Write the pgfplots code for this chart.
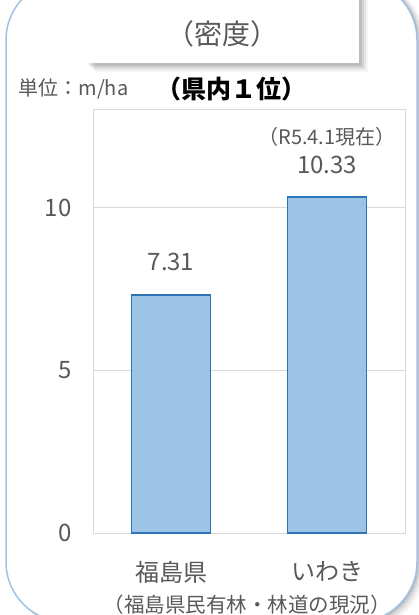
\documentclass[border=0pt]{standalone}
\usepackage{pgfplots}
\pgfplotsset{compat=1.18}
\usepackage{fontspec}
\setmainfont{Noto Sans CJK JP}
\definecolor{txt}{HTML}{595959}
\definecolor{gridc}{HTML}{D9D9D9}
\definecolor{barfill}{HTML}{9DC3E6}
\definecolor{baredge}{HTML}{2E75B6}
\definecolor{frameblue}{HTML}{9DC3E6}
\begin{document}
\begin{tikzpicture}[x=1pt,y=1pt]
\path[use as bounding box] (0,0) rectangle (419,615);
\clip (0,0) rectangle (419,615);
\fill[white] (0,0) rectangle (419,615);
% outer frame shadow
\foreach \d/\o in {7/0.04,5/0.06,3/0.08,1.5/0.1} {
  \fill[black,opacity=\o,rounded corners=60pt] (6+\d,-7-\d) rectangle (417+\d,635);
}
\fill[white,rounded corners=60pt] (6,-7) rectangle (417,635);
\draw[frameblue,line width=1.5pt,rounded corners=60pt] (6,-7) rectangle (417,635);
% top box shadow
\foreach \d/\o in {9/0.04,7/0.06,5/0.08,3/0.1} {
  \fill[black,opacity=\o] (86+\d,552-\d) rectangle (359+\d,630);
}
\fill[white] (86,552) rectangle (359,630);
\node[txt,font=\fontsize{28}{32}\selectfont] at (222,581) {（密度）};
% unit and rank
\node[txt,anchor=west,font=\fontsize{20}{24}\selectfont] at (15,526) {単位：m/ha};
\node[black,font=\fontsize{25}{29}\selectfont\bfseries] at (231,526) {（県内１位）};
\begin{axis}[
  at={(93pt,82pt)}, anchor=south west,
  scale only axis, width=312pt, height=423pt,
  xmin=-0.5, xmax=1.5, ymin=0, ymax=13,
  ytick={0,5,10}, xtick={0,1},
  xticklabels={福島県,いわき},
  major tick length=0pt,
  ymajorgrids, grid style={draw=gridc,line width=1pt},
  axis line style={draw=gridc,line width=1pt},
  /pgf/number format/assume math mode=true,
  tick label style={txt,font=\fontsize{24}{28}\selectfont},
  yticklabel style={xshift=-18pt},
  xticklabel style={yshift=-25pt},
  clip=false,
]
\addplot[ybar,bar width=79pt,fill=barfill,draw=baredge,line width=1.5pt] coordinates {(0,7.31) (1,10.33)};
\node[txt,font=\fontsize{24}{28}\selectfont] at (axis cs:0,8.33) {7.31};
\node[txt,font=\fontsize{24}{28}\selectfont] at (axis cs:1,11.31) {10.33};
\node[txt,font=\fontsize{20}{24}\selectfont] at (axis cs:1,12.17) {（R5.4.1現在）};
\end{axis}
\node[txt,font=\fontsize{20.5}{24}\selectfont] at (247,10) {（福島県民有林・林道の現況）};
\end{tikzpicture}
\end{document}
